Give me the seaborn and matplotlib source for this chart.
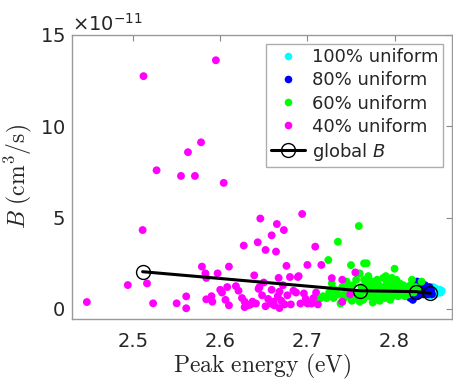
import numpy as np
import pandas as pd
import matplotlib
matplotlib.use("Agg")
import matplotlib.pyplot as plt
import seaborn as sns
from matplotlib.ticker import ScalarFormatter
from matplotlib.lines import Line2D
from matplotlib.font_manager import FontProperties

# values, y in units of 1e-11 cm^3/s
mag_x = [2.447, 2.494, 2.511, 2.512, 2.516, 2.523, 2.527, 2.550, 2.555, 2.561,
         2.561, 2.563, 2.571, 2.578, 2.579, 2.583, 2.584, 2.584, 2.590, 2.591,
         2.595, 2.597, 2.602, 2.604, 2.606, 2.608, 2.610, 2.610, 2.621, 2.627,
         2.628, 2.628, 2.637, 2.639, 2.643, 2.646, 2.644, 2.648, 2.652, 2.652,
         2.659, 2.659, 2.661, 2.664, 2.665, 2.666, 2.667, 2.668, 2.673, 2.674,
         2.676, 2.677, 2.680, 2.681, 2.687, 2.689, 2.692, 2.694, 2.700, 2.700,
         2.705, 2.710, 2.709, 2.716, 2.728, 2.740, 2.740, 2.749, 2.755, 2.632,
         2.641, 2.655, 2.662, 2.670, 2.684, 2.696, 2.703, 2.712, 2.618, 2.625,
         2.600, 2.635, 2.650, 2.658, 2.672, 2.690, 2.698, 2.707, 2.645, 2.668]
mag_y = [0.38, 1.31, 4.32, 12.74, 1.40, 0.31, 7.59, 0.31, 7.28, 0.69,
         0.04, 8.58, 7.28, 9.12, 2.32, 1.95, 1.70, 0.53, 0.70, 0.40,
         13.61, 1.95, 0.90, 6.90, 0.50, 1.20, 2.32, 0.20, 1.00, 3.47,
         0.40, 0.10, 0.40, 1.84, 3.65, 4.95, 1.10, 0.75, 3.23, 0.15,
         4.03, 1.05, 0.40, 3.14, 4.65, 0.70, 1.70, 0.05, 4.32, 0.25,
         2.36, 0.75, 1.75, 0.25, 0.90, 1.75, 0.30, 5.20, 2.41, 0.30,
         0.30, 0.90, 3.41, 2.41, 1.69, 1.60, 0.40, 0.80, 2.00, 0.20,
         0.30, 0.55, 0.20, 0.45, 1.00, 0.85, 0.35, 0.25, 1.25, 0.60,
         1.05, 0.25, 1.45, 0.30, 1.30, 1.80, 0.55, 0.60, 1.20, 0.95]

grn_x = [2.714, 2.718, 2.722, 2.725, 2.724, 2.728, 2.730, 2.732, 2.735, 2.736,
         2.738, 2.740, 2.742, 2.744, 2.746, 2.748, 2.750, 2.751, 2.752, 2.754,
         2.756, 2.757, 2.759, 2.760, 2.761, 2.762, 2.764, 2.765, 2.766, 2.768,
         2.768, 2.770, 2.771, 2.772, 2.774, 2.775, 2.776, 2.778, 2.779, 2.780,
         2.781, 2.782, 2.784, 2.785, 2.786, 2.787, 2.788, 2.789, 2.790, 2.791,
         2.792, 2.793, 2.794, 2.795, 2.796, 2.797, 2.798, 2.799, 2.800, 2.800,
         2.801, 2.802, 2.803, 2.804, 2.805, 2.806, 2.807, 2.808, 2.809, 2.810,
         2.811, 2.812, 2.813, 2.814, 2.815, 2.816, 2.818, 2.820, 2.821, 2.822,
         2.824, 2.826, 2.831, 2.745, 2.770, 2.790, 2.760, 2.775, 2.795, 2.730,
         2.740, 2.783, 2.750, 2.765, 2.797]
grn_y = [0.55, 0.70, 0.60, 0.90, 2.68, 1.40, 0.60, 1.00, 3.68, 0.80,
         0.30, 1.20, 0.60, 0.90, 1.10, 0.70, 2.40, 0.45, 1.30, 0.90,
         1.60, 0.60, 4.54, 1.95, 0.80, 1.20, 0.50, 2.50, 1.00, 2.50,
         1.40, 0.70, 1.10, 0.90, 1.50, 0.60, 1.20, 0.80, 1.00, 1.60,
         0.50, 1.30, 0.90, 1.10, 0.70, 1.70, 1.20, 0.60, 1.00, 1.40,
         0.80, 1.20, 0.60, 1.50, 0.90, 1.10, 0.70, 1.30, 2.20, 1.00,
         0.80, 1.60, 1.20, 0.70, 1.00, 1.40, 0.90, 1.10, 0.80, 1.30,
         1.00, 0.70, 1.20, 0.90, 1.10, 0.80, 1.30, 1.60, 1.00, 0.90,
         1.20, 1.10, 1.50, 1.50, 1.80, 1.80, 0.40, 0.35, 0.50, 1.10,
         0.40, 0.45, 1.10, 1.60, 1.70]

blu_x = [2.815, 2.817, 2.818, 2.820, 2.821, 2.822, 2.823, 2.825, 2.826, 2.827,
         2.828, 2.829, 2.830, 2.831, 2.832, 2.833, 2.834, 2.835, 2.836, 2.837,
         2.838, 2.839, 2.840, 2.841, 2.842, 2.843, 2.826]
blu_y = [1.10, 0.80, 0.60, 1.00, 0.50, 1.30, 0.90, 1.20, 0.70, 1.00,
         1.40, 0.80, 1.10, 0.90, 1.20, 0.80, 1.00, 1.30, 0.90, 1.10,
         0.80, 1.00, 1.20, 0.90, 1.00, 0.80, 1.50]

cya_x = [2.838, 2.840, 2.842, 2.843, 2.844, 2.845, 2.846, 2.847, 2.848, 2.849,
         2.850, 2.851, 2.852, 2.853, 2.854, 2.846, 2.841]
cya_y = [0.90, 1.10, 0.80, 1.00, 1.20, 0.90, 1.00, 0.80, 1.10, 0.90,
         1.00, 0.95, 1.05, 0.90, 1.00, 1.15, 0.75]

glob_x = [2.511, 2.760, 2.825, 2.841]
glob_y = [2.04, 1.00, 0.95, 0.86]

labels = ["100% uniform", "80% uniform", "60% uniform", "40% uniform"]
colors = ["#00ffff", "#0000ff", "#00ff00", "#ff00ff"]
scale = 1e-11

frames = []
for lab, xs, ys in zip(labels, [cya_x, blu_x, grn_x, mag_x], [cya_y, blu_y, grn_y, mag_y]):
    frames.append(pd.DataFrame({"E": xs, "B": np.array(ys) * scale, "set": lab}))
df = pd.concat(frames, ignore_index=True)
glob = pd.DataFrame({"E": glob_x, "B": np.array(glob_y) * scale})

sns.set_style("white")
plt.rcParams["font.family"] = ["DejaVu Sans"]
plt.rcParams["mathtext.fontset"] = "cm"

fig = plt.figure(figsize=(4.53, 3.83), dpi=100)
ax = fig.add_axes([0.159, 0.167, 0.839, 0.742])

sns.scatterplot(data=df, x="E", y="B", hue="set", hue_order=labels,
                palette=colors, s=32, linewidth=0, ax=ax, legend=False, zorder=2)
sns.lineplot(data=glob, x="E", y="B", color="black", linewidth=2.2, marker="o",
             markersize=10, markerfacecolor="none", markeredgecolor="black",
             markeredgewidth=1.0, ax=ax, zorder=3)

ax.set_xlim(2.43, 2.866)
ax.set_ylim(-0.55e-11, 15e-11)
ax.set_xticks([2.5, 2.6, 2.7, 2.8])
ax.set_yticks(np.array([0, 5, 10, 15]) * scale)
fmt = ScalarFormatter(useMathText=True)
fmt.set_powerlimits((-11, -11))
ax.yaxis.set_major_formatter(fmt)
off = ax.yaxis.get_offset_text()
off.set_fontsize(14)
off.set_color("#262626")
off.set_math_fontfamily("dejavusans")

ax.tick_params(direction="in", length=4, width=0.8, color="#888888",
               labelsize=14, labelcolor="#262626", top=True, right=True)
ax.tick_params(axis="x", pad=9)
ax.tick_params(axis="y", pad=5)
for sp in ax.spines.values():
    sp.set_color("#999999")
    sp.set_linewidth(1.0)

ax.set_xlabel(r"$\mathrm{Peak\ energy\ (eV)}$", fontsize=17, labelpad=1)
ax.set_ylabel(r"$B\ \mathrm{(cm^3/s)}$", fontsize=17, labelpad=4)

handles = [Line2D([], [], linestyle="none", marker="o", markersize=5.5,
                  markerfacecolor=c, markeredgewidth=0) for c in colors]
handles.append(Line2D([], [], color="black", linewidth=2.2, marker="o",
                      markersize=10, markerfacecolor="none", markeredgecolor="black"))
legfont = FontProperties(family="DejaVu Sans", size=13, math_fontfamily="dejavusans")
leg = ax.legend(handles, labels + [r"global $B$"], loc="upper right", prop=legfont,
                frameon=True, fancybox=False, edgecolor="#999999",
                borderpad=0.25, labelspacing=0.28, handlelength=1.9,
                handletextpad=0.4, borderaxespad=0.5)
leg.get_frame().set_linewidth(1.0)

fig.savefig("out.png", dpi=100)
